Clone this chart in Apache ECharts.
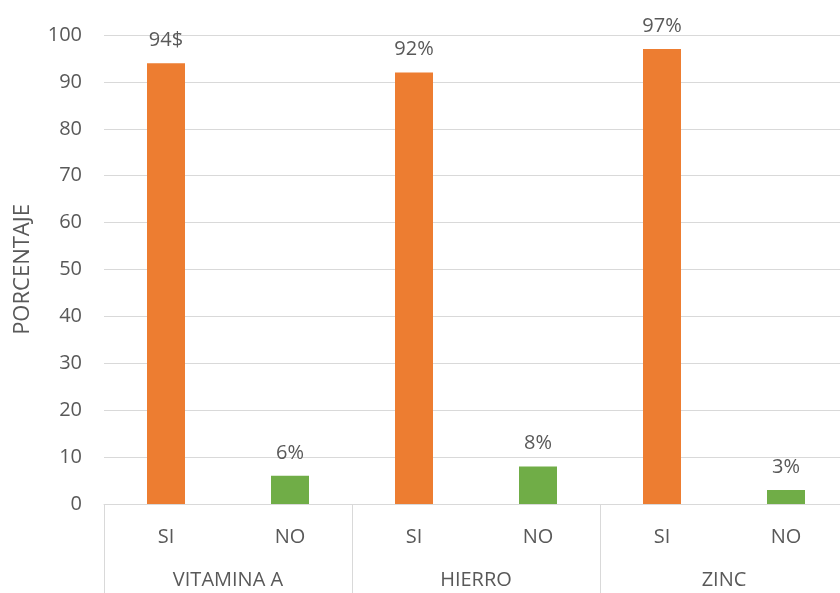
<!DOCTYPE html>
<html>
<head>
<meta charset="utf-8">
<script src="https://cdn.jsdelivr.net/npm/echarts@6/dist/echarts.min.js"></script>
<style>
  html, body { margin: 0; padding: 0; background: #fff; overflow: hidden; }
  /* the plot runs slightly past the right edge of the page */
  #chart { width: 848px; height: 593px; }
</style>
</head>
<body>
<div id="chart"></div>
<script>
// Survey answers per micronutrient (percentage)
const groups = ['VITAMINA A', 'HIERRO', 'ZINC'];
const answers = ['SI', 'NO'];
const siValues = [94, 92, 97];
const noValues = [6, 8, 3];
const siLabels = ['94$', '92%', '97%'];
const noLabels = ['6%', '8%', '3%'];
const yTicks = { min: 0, max: 100, interval: 10 };

const textColor = '#595959';
const fontFamily = '"Open Sans", "Noto Sans", sans-serif';
const colors = { SI: '#ED7D31', NO: '#70AD47' };

// Flatten into one category per answer, grouped by nutrient
const categories = [];
const barData = [];
groups.forEach((g, i) => {
  categories.push(answers[0]);
  barData.push({ value: siValues[i], itemStyle: { color: colors.SI }, labelText: siLabels[i] });
  categories.push(answers[1]);
  barData.push({ value: noValues[i], itemStyle: { color: colors.NO }, labelText: noLabels[i] });
});

const chart = echarts.init(document.getElementById('chart'), null, { renderer: 'canvas' });
chart.setOption({
  animation: false,
  grid: { left: 104, right: 0, top: 35, bottom: 89, containLabel: false },
  xAxis: [
    {
      type: 'category',
      data: categories,
      axisLine: { lineStyle: { color: '#D9D9D9', width: 1 } },
      axisTick: { show: false },
      axisLabel: { color: textColor, fontSize: 20, fontFamily: fontFamily, margin: 23 }
    },
    {
      type: 'category',
      data: groups,
      position: 'bottom',
      axisLine: { show: false },
      axisTick: { show: true, length: 89, lineStyle: { color: '#D9D9D9', width: 1 } },
      axisLabel: { color: textColor, fontSize: 20, fontFamily: fontFamily, margin: 66 }
    }
  ],
  yAxis: {
    type: 'value',
    min: yTicks.min,
    max: yTicks.max,
    interval: yTicks.interval,
    name: 'PORCENTAJE',
    nameLocation: 'middle',
    nameGap: 70,
    nameRotate: 90,
    nameTextStyle: { color: textColor, fontSize: 22, fontFamily: fontFamily },
    axisLine: { show: false },
    axisTick: { show: false },
    axisLabel: { color: textColor, fontSize: 20, fontFamily: fontFamily, margin: 22 },
    splitLine: { lineStyle: { color: '#D9D9D9', width: 1 } }
  },
  series: [
    {
      type: 'bar',
      xAxisIndex: 0,
      data: barData,
      barWidth: 38,
      label: {
        show: true,
        position: 'top',
        distance: 13,
        color: textColor,
        fontSize: 20,
        fontFamily: fontFamily,
        formatter: p => p.data.labelText
      }
    }
  ]
});
</script>
</body>
</html>
